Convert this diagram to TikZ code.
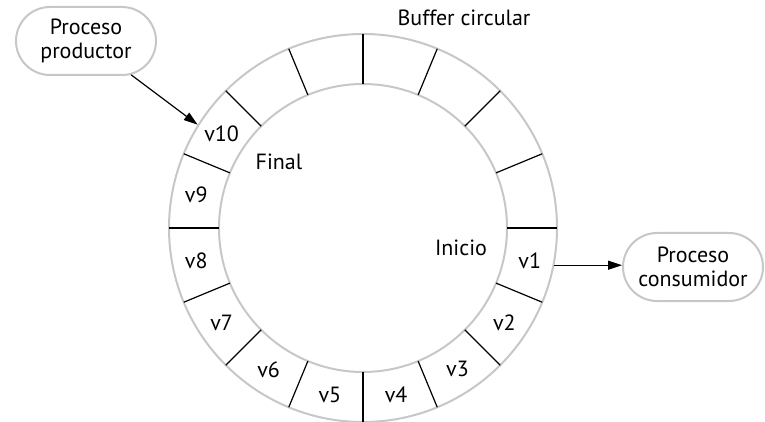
\documentclass[tikz,border=0pt]{standalone}
\usepackage{fontspec}
\setmainfont{PT Sans}
\usetikzlibrary{shapes.misc,arrows.meta,calc}

\begin{document}
\begin{tikzpicture}[x=0.5pt, y=0.5pt,
  every node/.style={font=\fontsize{11}{12}\selectfont},
  ring/.style={draw=black!22, line width=1pt, circle, inner sep=0pt},
  proc/.style={draw=black!22, line width=1pt, rounded rectangle, align=center,
               minimum width=74pt, minimum height=34pt, inner sep=2pt},
  div/.style={line width=0.6pt},
  ar/.style={-{Triangle[length=7pt,width=4.5pt]}, line width=0.6pt}]

\useasboundingbox (0,0) rectangle (765,-422);

%% --- Buffer ring ---
\coordinate (C) at (363,-228);
\node[ring, minimum size=194pt] (RING) at (C) {};
\node[ring, minimum size=144pt] (CORE) at (C) {};
\foreach \a in {0,22.5,...,337.5}
  \draw[div] ([shift={(\a:144)}]C) -- ([shift={(\a:194)}]C);

%% --- Slot labels ---
\foreach \i in {1,...,10}
  \node (V\i) at ([shift={({-11.25-22.5*(\i-1)}:170)}]C) {v\i};

\node (BUF) at (464,-18)  {Buffer circular};
\node (FIN) at (279,-162) {Final};
\node (INI) at (461,-248) {Inicio};

%% --- Processes ---
\node[proc] (PROD) at (86,-41)  {Proceso\\productor};
\node[proc] (CONS) at (693,-267) {Proceso\\consumidor};

%% --- Arrows ---
\draw[ar] (PROD) -- (RING.148);
\draw[ar] (RING.-11.6) -- (RING.-11.6 -| CONS.west);
\end{tikzpicture}
\end{document}
